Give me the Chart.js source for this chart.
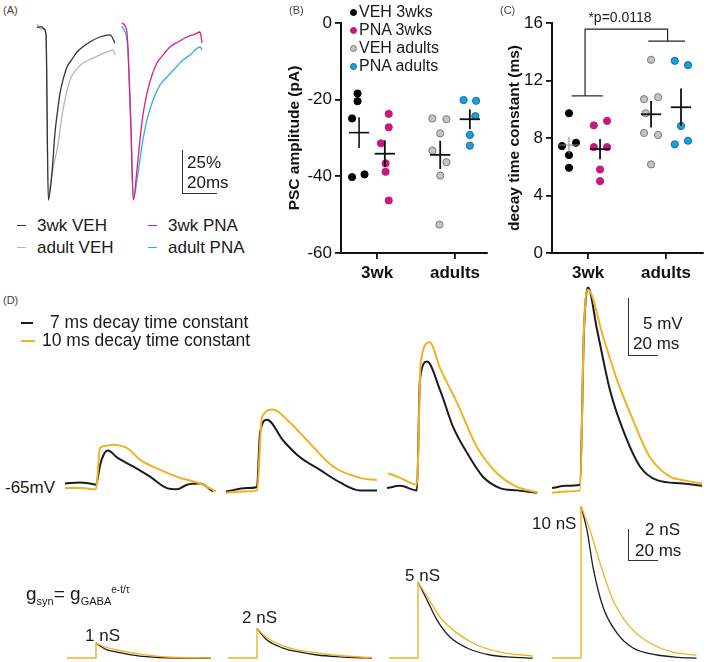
<!DOCTYPE html>
<html>
<head>
<meta charset="utf-8">
<title>GABA PSC kinetics</title>
<script src="https://cdn.jsdelivr.net/npm/chart.js"></script>
<style>
  body { margin: 0; background: #fff; }
  #fig { position: relative; width: 709px; height: 662px; overflow: hidden;
         font-family: "Liberation Sans", Arial, sans-serif; color: #1a1a1a; }
  #fig canvas { position: absolute; }
  .txt { position: absolute; white-space: nowrap; line-height: 1; }
  .txt sub, .txt sup { line-height: 0; }
  .bar { position: absolute; }
</style>
</head>
<body>
<div id="fig"></div>
<script>
// ---- data ----

// (A) normalised PSC traces: [ms from peak, % of peak]
const aVeh3wk = [[-6.5, 0], [-4, 0.5], [-2.5, -0.9], [-1.3, -4.3], [0, -100], [2.1, -84.3], [3.8, -61.2],
  [5.5, -46.7], [6.7, -38], [8.4, -30.4], [10.7, -22.9], [13.5, -18.5], [16.4, -14.2], [20, -11],
  [23.8, -8.4], [29.5, -5.5], [35.3, -4.3], [38.1, -9]];
const aVehAdult = [[-6.5, 2], [-4, -1], [-2.5, -0.3], [-1.3, -4.3], [0, -100], [1, -92.5], [3, -80],
  [5, -71], [8.4, -47.8], [12.4, -30.4], [15.5, -25], [19.8, -20.6], [25, -18], [29.5, -15.9],
  [34, -14], [37, -13], [38.1, -15.9]];
const aPna3wk = [[-6.5, 2.6], [-4.7, 0.9], [-3.6, -3.2], [-3, -13], [-1.9, -42], [-1.3, -59.4], [0, -100],
  [2.1, -82.6], [3.8, -65.2], [5.5, -50.7], [7.8, -38], [10.7, -27.5], [13.5, -20.6], [17, -15.9],
  [21, -11.3], [25.5, -8.4], [30.7, -5.5], [35.3, -3.8], [38.1, -2.6], [39.3, -9]];
const aPnaAdult = [[-6.5, 0.9], [-3.6, -7.2], [-3, -14], [-1.9, -42], [-1.3, -59.4], [0, -100], [2.1, -88.4],
  [5.5, -65.2], [7.8, -53.6], [11.3, -42], [15.3, -33.3], [19.3, -28.7], [24, -23.5], [28.4, -18.8],
  [32.4, -15.9], [38.1, -11.3], [39.3, -13]];

// (B)/(C) groups
const groupNames = ['VEH 3wks', 'PNA 3wks', 'VEH adults', 'PNA adults'];
const ageLabels = ['3wk', 'adults'];

// (B) PSC amplitude (pA)
const ampVals = [
  [-18.4, -20.4, -24.9, -40.2, -39.5],
  [-23.7, -27.2, -31.4, -36.6, -38.8, -46.3],
  [-24.9, -25.1, -28.8, -33.3, -36.3, -39.8, -52.6],
  [-20.1, -20.3, -24.3, -29.2, -32.0]
];
const ampMean = [-28.6, -34.1, -34.4, -25.1];
const ampSem = [4.0, 3.5, 3.7, 2.6];

// (C) decay time constant (ms)
const tauVals = [
  [9.72, 7.44, 7.67, 6.81, 5.93],
  [8.88, 9.19, 7.37, 7.37, 5.81, 5.00],
  [13.44, 10.70, 10.84, 9.72, 8.35, 8.21, 6.16],
  [13.37, 13.07, 8.84, 7.56, 7.81]
];
const tauMean = [7.51, 7.23, 9.65, 10.14];
const tauSem = [0.58, 0.70, 0.92, 1.30];

// (D) simulated membrane potential: [ms from onset, mV], one array per conductance step
const vm7 = [
  [[-20.7, -64.7], [-10.7, -64.6], [-4, -64.7], [0, -64.8], [2.7, -63.1], [5, -62.2], [8, -61.8], [14, -62.4],
   [24.7, -63.2], [36, -64.1], [47.3, -65.1], [54, -65.2], [60.7, -64.8], [69.3, -64.7], [78, -65.4]],
  [[-20.7, -65.4], [-6.7, -65.1], [0, -65.0], [2, -60.3], [6.7, -59.1], [17.3, -60.9], [28.7, -62.4],
   [42, -63.5], [55.3, -64.6], [68.7, -65.3], [80, -65.3]],
  [[-20.7, -65.1], [-12, -64.9], [-0.7, -65.3], [1.3, -55.6], [6, -54.0], [14.7, -56.5], [23.3, -59.7],
   [32.7, -62.0], [43.3, -64.1], [54.7, -65.1], [66, -65.3], [79.3, -65.5]],
  [[-19.3, -65.1], [-10, -64.9], [-0.7, -64.8], [2, -51.2], [4.7, -47.5], [10.7, -51.2], [19.3, -56.5],
   [28, -60.0], [39.3, -63.2], [50.7, -64.4], [68, -64.7], [80.7, -64.9]]
];
const vm10 = [
  [[-20.7, -65.1], [-10, -65.1], [0, -65.2], [2.7, -61.6], [6, -61.4], [11.3, -61.3], [20.7, -61.6],
   [29.3, -62.6], [42.7, -63.5], [56, -64.2], [69.3, -64.7], [80, -65.4]],
  [[-20.7, -65.5], [-8, -65.4], [0, -65.3], [3.3, -58.9], [10.7, -58.2], [20, -59.1], [33.3, -60.9],
   [50.7, -63.2], [68.7, -64.2], [80, -64.4]],
  [[-20, -63.8], [-12, -64.2], [-0.7, -64.8], [1.8, -54.1], [7.8, -52.3], [14.5, -54.5], [26, -57.6],
   [39.3, -61.5], [52.7, -63.8], [66, -65.0], [80, -65.5]],
  [[-19.3, -65.5], [-10, -65.4], [-0.7, -65.3], [2, -51], [4.7, -47.7], [14.7, -51.8], [24, -55.6],
   [32.7, -58.5], [46, -62.4], [59.3, -64.1], [68, -64.4], [80.7, -64.7]]
];

// (D) synaptic conductance decay after the step: [ms from onset, nS]
const gs7 = [
  [[0, 1.0], [2.7, 0.79], [7, 0.56], [14, 0.39], [29.3, 0.13], [47, 0.02], [76.5, 0]],
  [[0, 1.95], [6.7, 1.18], [17.3, 0.66], [28, 0.4], [40, 0.2], [55, 0.08], [68.7, 0.02], [76.5, 0]],
  [[0, 5.0], [6, 3.82], [12.7, 2.5], [21.3, 1.38], [32.7, 0.66], [48, 0.2], [62, 0.06], [76.5, 0]],
  [[0, 10.0], [4, 8.42], [8, 5.99], [14.7, 3.36], [24, 1.64], [34.7, 0.66], [50.7, 0.2], [65, 0.05], [77, 0]]
];
const gs10 = [
  [[0, 1.0], [2.7, 0.86], [14, 0.53], [29.3, 0.26], [47, 0.07], [76.5, 0.01]],
  [[0, 1.95], [6.7, 1.32], [22, 0.66], [35, 0.4], [50.7, 0.2], [68.7, 0.07], [76.5, 0.04]],
  [[0, 5.0], [6.7, 3.95], [14.7, 2.7], [26, 1.64], [39.3, 0.86], [54.7, 0.39], [76.7, 0.13]],
  [[0, 10.0], [6, 8.42], [12.7, 6.25], [21.3, 3.82], [32.7, 2.04], [46, 0.99], [61.3, 0.39], [77, 0.2]]
];
const gPeakLabels = ['1 nS', '2 nS', '5 nS', '10 nS'];

// ---- layout / style ----
const fig = document.getElementById('fig');
Chart.defaults.font.family = '"Liberation Sans", Arial, sans-serif';
Chart.defaults.color = '#111';

const dotFill = ['#000000', '#c9187b', '#c4c4c4', '#1c9fdb'];
const dotEdge = ['#000000', '#c9187b', '#7a7a7a', '#0d6e9e'];
const traceCol = { veh3: '#333333', vehAd: '#b5b5b5', pna3: '#e6198a', pnaAd: '#2bb0e6' };
const col7 = '#1c1c1c', col10 = '#f0b21f';
const CROSS_HALF = 0.13;

function canvasAt(left, top, w, h) {
  const c = document.createElement('canvas');
  c.width = w; c.height = h;
  c.style.left = left + 'px'; c.style.top = top + 'px';
  c.style.width = w + 'px'; c.style.height = h + 'px';
  fig.appendChild(c);
  return c.getContext('2d');
}

function text(str, x, y, size, extra) {
  const d = document.createElement('div');
  d.className = 'txt';
  d.innerHTML = str;
  d.style.left = x + 'px';
  d.style.top = (y - size / 2) + 'px';
  d.style.fontSize = size + 'px';
  if (extra) Object.assign(d.style, extra);
  fig.appendChild(d);
  return d;
}

function bar(x, y, w, h, color) {
  const d = document.createElement('div');
  d.className = 'bar';
  Object.assign(d.style, { left: x + 'px', top: y + 'px', width: w + 'px', height: h + 'px', background: color });
  fig.appendChild(d);
}

function traceChart(left, top, w, h, xr, yr, traces) {
  return new Chart(canvasAt(left, top, w, h), {
    type: 'scatter',
    data: {
      datasets: traces.map(tr => ({
        data: tr.pts.map(p => ({ x: p[0], y: p[1] })),
        showLine: true,
        borderColor: tr.color,
        borderWidth: tr.width,
        pointRadius: 0,
        cubicInterpolationMode: tr.smooth === false ? 'default' : 'monotone',
        tension: 0,
        fill: false
      }))
    },
    options: {
      responsive: false, animation: false, events: [],
      layout: { padding: 0, autoPadding: false },
      plugins: { legend: { display: false }, tooltip: { enabled: false } },
      scales: {
        x: { type: 'linear', display: false, min: xr[0], max: xr[1] },
        y: { type: 'linear', display: false, min: yr[0], max: yr[1] }
      }
    }
  });
}

const axisGrid = { display: true, drawOnChartArea: false, drawTicks: true, tickLength: 6, color: '#111', lineWidth: 1.8 };
const axisBorder = { display: true, color: '#111', width: 2 };

function dotPlot(o) {
  const datasets = [];
  o.vals.forEach((grp, i) => {
    datasets.push({
      data: grp.map((v, j) => ({ x: o.slots[i] + o.jitter[i][j], y: v })),
      backgroundColor: dotFill[i], borderColor: dotEdge[i], borderWidth: 1,
      pointRadius: 3.6, order: 3
    });
  });
  o.means.forEach((m, i) => {
    const st = { showLine: true, pointRadius: 0, borderColor: o.crossColor[i], borderWidth: o.crossWidth[i], order: 1 };
    datasets.push({ ...st, data: [{ x: o.slots[i] - CROSS_HALF, y: m }, { x: o.slots[i] + CROSS_HALF, y: m }] });
    datasets.push({ ...st, data: [{ x: o.slots[i], y: m - o.sems[i] }, { x: o.slots[i], y: m + o.sems[i] }] });
  });
  (o.extra || []).forEach(d => datasets.push(d));

  return new Chart(canvasAt(o.left, 0, o.width, 290), {
    type: 'scatter',
    data: { datasets },
    options: {
      responsive: false, animation: false, events: [],
      layout: { autoPadding: false, padding: { top: 23, right: o.padRight, bottom: 0, left: 0 } },
      plugins: { legend: { display: false }, tooltip: { enabled: false } },
      scales: {
        x: {
          type: 'linear', min: o.xMin, max: o.xMax,
          afterBuildTicks: s => { s.ticks = ageLabels.map((_, k) => ({ value: k + 1 })); },
          afterFit: s => { s.height = 37; },
          ticks: { callback: v => ageLabels[Math.round(v) - 1], font: { size: 17, weight: 'bold' },
                   color: '#111', padding: 4, maxRotation: 0, autoSkip: false },
          grid: axisGrid, border: axisBorder
        },
        y: {
          min: o.yMin, max: o.yMax,
          afterFit: s => { s.width = o.yWidth; },
          ticks: { stepSize: o.yStep, font: { size: 17 }, color: '#111', padding: 3 },
          grid: axisGrid, border: axisBorder,
          title: { display: true, text: o.yTitle, font: { size: 15.5, weight: 'bold' }, color: '#111',
                   padding: { top: 5.5, bottom: 0 } }
        }
      }
    }
  });
}

// ---- (A) ----
const aX = [-8.17, 42.1], aY = [-105.8, 7.25];
traceChart(34, 15, 88, 195, aX, aY, [
  { pts: aVeh3wk, color: traceCol.veh3, width: 1.3 },
  { pts: aVehAdult, color: traceCol.vehAd, width: 1.3 }
]);
traceChart(119, 15, 88, 195, aX, aY, [
  { pts: aPna3wk, color: traceCol.pna3, width: 1.3 },
  { pts: aPnaAdult, color: traceCol.pnaAd, width: 1.3 }
]);

// ---- (B) ----
dotPlot({
  left: 280, width: 212, padRight: 5, yWidth: 61,
  xMin: 0.538, xMax: 2.41, yMin: -60, yMax: 0, yStep: 20, yTitle: 'PSC amplitude (pA)',
  vals: ampVals, means: ampMean, sems: ampSem,
  slots: [0.77, 1.10, 1.81, 2.19],
  jitter: [[-0.02, -0.02, -0.09, -0.09, 0.07], [0.05, 0.05, -0.05, 0.01, 0.01, 0.05],
           [-0.1, 0.08, 0, -0.1, 0.08, 0, -0.01], [-0.08, 0.08, 0.07, 0, 0]],
  crossColor: ['#111', '#111', '#111', '#111'], crossWidth: [1.6, 1.8, 1.8, 1.8]
});

// ---- (C) ----
const brk = { showLine: true, pointRadius: 0, borderColor: '#222', borderWidth: 1.2, order: 1 };
dotPlot({
  left: 500, width: 206, padRight: 3, yWidth: 52,
  xMin: 0.538, xMax: 2.474, yMin: 0, yMax: 16, yStep: 4, yTitle: 'decay time constant (ms)',
  vals: tauVals, means: tauMean, sems: tauSem,
  slots: [0.756, 1.154, 1.808, 2.192],
  jitter: [[0, -0.09, 0.09, 0, 0], [-0.08, 0.09, -0.08, 0.09, 0, 0],
           [0, -0.09, 0.09, -0.07, -0.09, 0.09, 0], [-0.08, 0.09, 0, -0.08, 0.09]],
  crossColor: ['#8a8a8a', '#111', '#111', '#111'], crossWidth: [1, 1.8, 1.8, 1.8],
  extra: [
    { ...brk, data: [{ x: 0.962, y: 10.93 }, { x: 0.962, y: 15.58 }, { x: 2.02, y: 15.58 }, { x: 2.02, y: 14.74 }] },
    { ...brk, data: [{ x: 0.79, y: 10.93 }, { x: 1.19, y: 10.93 }] },
    { ...brk, data: [{ x: 1.773, y: 14.74 }, { x: 2.244, y: 14.74 }] }
  ]
});

// ---- (D) ----
const segLeft = [64, 225, 386, 549];
const dX = [-21.33, 82];
segLeft.forEach((left, i) => {
  traceChart(left, 280, 155, 222, dX, [-66.32, -46.84], [
    { pts: vm10[i], color: col10, width: 2 },
    { pts: vm7[i], color: col7, width: 2 }
  ]);
  const step = [[-19.5, 0], [0, 0], [0, gs10[i][0][1]]];
  traceChart(left, 500, 155, 162, dX, [-0.26, 10.4], [
    { pts: step, color: col10, width: 1.4, smooth: false },
    { pts: gs10[i], color: col10, width: 1.3 },
    { pts: gs7[i], color: col7, width: 1.3 }
  ]);
});

// ---- text and scale bars ----
const small = { color: '#444' };
text('(A)', 3, 10, 11, small);
text('(B)', 289, 10, 11, small);
text('(C)', 500, 10, 11, small);
text('(D)', 3, 300, 11, small);

// A scale bar + legend
bar(181.5, 150, 1.2, 43.5, '#333');
bar(181.5, 192.5, 35.5, 1.2, '#333');
text('25%', 187, 162, 17);
text('20ms', 187, 182, 17);
const aLegend = [
  ['3wk VEH', traceCol.veh3, 17, 37, 225], ['adult VEH', traceCol.vehAd, 17, 37, 247],
  ['3wk PNA', traceCol.pna3, 148, 168, 225], ['adult PNA', traceCol.pnaAd, 148, 168, 247]
];
aLegend.forEach(([lab, c, dx, tx, y]) => {
  bar(dx, y - 0.5, 9, 1.6, c);
  text(lab, tx, y, 17);
});

// B legend
groupNames.forEach((name, i) => {
  const y = 12 + i * 18;
  const d = document.createElement('div');
  Object.assign(d.style, { position: 'absolute', left: '349.5px', top: (y - 3.5) + 'px', width: '5px', height: '5px',
    borderRadius: '50%', background: dotFill[i], border: '1px solid ' + dotEdge[i] });
  fig.appendChild(d);
  text(name, 359, y, 16);
});

// C p-value
text('*p=0.0118', 620, 17, 14, { transform: 'translateX(-50%)' });

// D legend
bar(21, 322, 12, 1.6, col7);
text('7 ms decay time constant', 50, 323, 17.5);
bar(21, 340, 14, 1.6, col10);
text('10 ms decay time constant', 42, 341, 17.5);
text('-65mV', 5, 487, 17);

// D scale bars
bar(627.5, 298, 1.2, 57.5, '#333');
bar(627.5, 354.5, 30.5, 1.2, '#333');
text('5 mV', 643, 323, 17);
text('20 ms', 633, 343, 17);
bar(627.5, 529, 1.2, 31.5, '#333');
bar(627.5, 559.5, 30.5, 1.2, '#333');
text('2 nS', 645, 529, 17);
text('20 ms', 635, 550, 17);

// conductance peak labels
[[85, 635], [242, 617], [405, 575], [532, 523]].forEach(([x, y], i) => text(gPeakLabels[i], x, y, 17));

text('g<sub style="font-size:11px">syn</sub>= g<sub style="font-size:11px">GABA</sub><sup style="font-size:10px">e-t/τ</sup>',
  26, 593.5, 19);
</script>
</body>
</html>
